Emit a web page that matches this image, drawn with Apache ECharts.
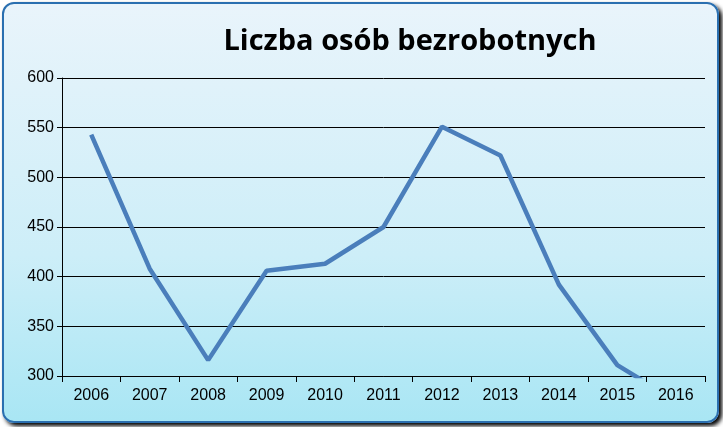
<!DOCTYPE html>
<html><head><meta charset="utf-8">
<script src="https://cdn.jsdelivr.net/npm/echarts@6/dist/echarts.min.js"></script>
<style>
html,body{margin:0;padding:0;background:#fff;}
#wrap{position:absolute;left:2px;top:2px;width:713px;height:417px;border-radius:12px;border:2px solid #2a6fb0;
background:linear-gradient(to bottom,#e9f4fb 0%,#cdeef8 60%,#a9e6f4 100%);box-shadow:3px 3px 4px #000;}
#c{position:absolute;left:0;top:0;width:723px;height:427px;}
</style></head><body>
<div id="wrap"></div>
<div id="c"></div>
<script>
var categories=['2006','2007','2008','2009','2010','2011','2012','2013','2014','2015','2016'];
var values=[543,408,316,406,413,450,551,522,392,311,275];
var labelShown=[true,true,true,true,true,true,true,true,true,true,false];
var chart=echarts.init(document.getElementById('c'));
chart.setOption({
 title:{text:'Liczba osób bezrobotnych',left:405,top:22,textAlign:'center',textStyle:{fontFamily:'Open Sans',fontWeight:'bold',fontSize:29,color:'#000'}},
 grid:{left:62,right:18,top:78,bottom:51},
 xAxis:{type:'category',data:categories,boundaryGap:true,
  axisLine:{lineStyle:{color:'#000'}},axisTick:{show:true,length:6,lineStyle:{color:'#000'}},
  axisLabel:{color:'#000',fontSize:16,fontFamily:'Liberation Sans',margin:12}},
 yAxis:{type:'value',min:300,max:600,interval:50,
  axisLine:{show:true,lineStyle:{color:'#000'}},axisTick:{show:true,length:5,lineStyle:{color:'#000'}},
  splitLine:{lineStyle:{color:'#000',width:1}},
  axisLabel:{color:'#000',fontSize:16,fontFamily:'Liberation Sans',margin:8}},
 series:[{type:'line',data:values.map(function(v,i){return {value:v,label:{show:labelShown[i]}};}),
  symbol:'circle',symbolSize:1,showSymbol:true,itemStyle:{color:'#4a7ebb',opacity:0},
  clip:true,lineStyle:{color:'#4a7ebb',width:4.5},labelLayout:{hideOverlap:false},
  label:{show:true,position:'right',distance:8,offset:[0,6],color:'#000',fontSize:16,fontFamily:'Liberation Sans'}}]
});
</script></body></html>
